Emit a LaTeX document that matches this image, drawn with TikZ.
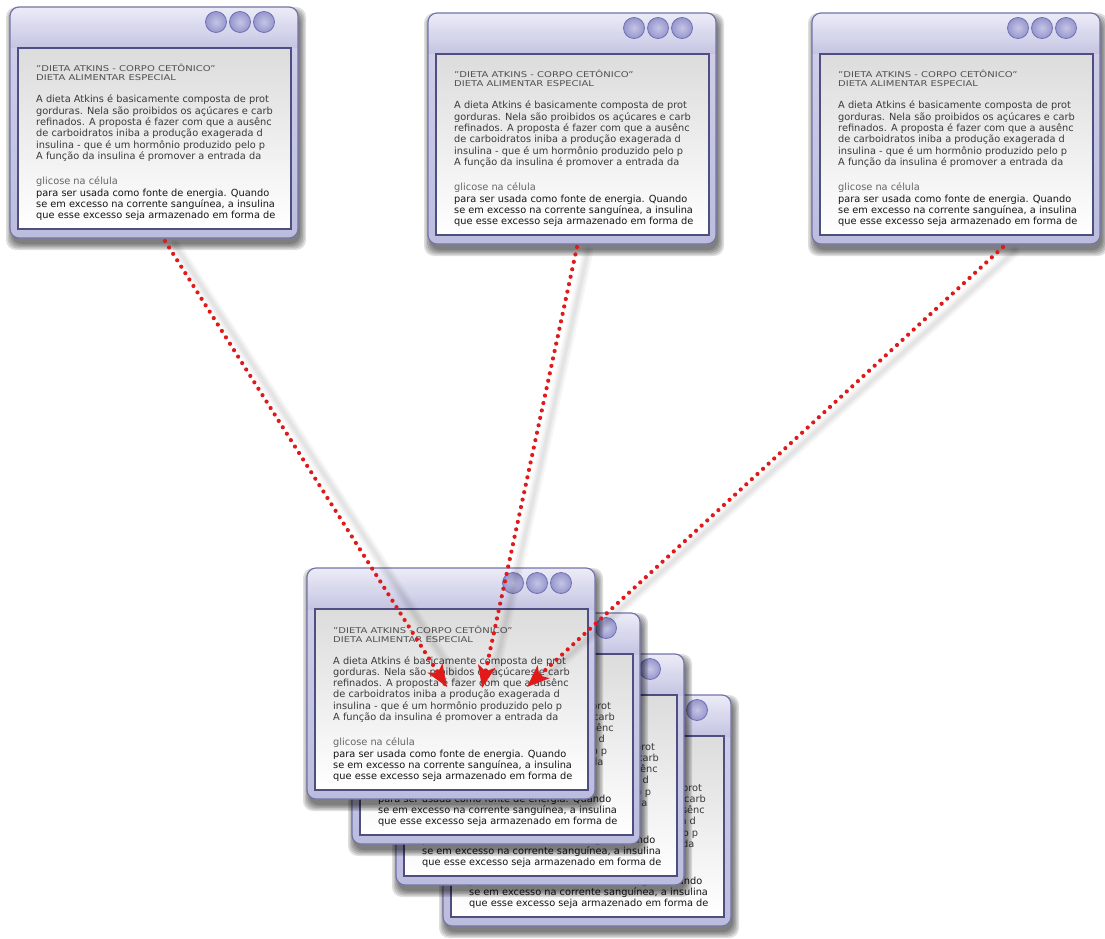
\documentclass[tikz,border=0pt]{standalone}
\usepackage{fontspec}
\setmainfont{DejaVu Sans}
\usepackage{graphicx}
\usetikzlibrary{arrows.meta,calc}
\definecolor{frameA}{HTML}{D2D2EC}
\definecolor{frameB}{HTML}{BCBCDE}
\definecolor{titleTop}{HTML}{ECECF7}
\definecolor{titleBot}{HTML}{C4C4E3}
\definecolor{frameLine}{HTML}{7474A8}
\definecolor{panelLine}{HTML}{4E4E80}
\definecolor{panelTop}{HTML}{DCDCDC}
\definecolor{btnFill}{HTML}{9696CE}
\definecolor{btnLine}{HTML}{7070B2}
\definecolor{bodyCol}{HTML}{3A3A3A}
\definecolor{hdrCol}{HTML}{505050}
\definecolor{lightCol}{HTML}{666666}
\definecolor{darkCol}{HTML}{151515}
\definecolor{arrowRed}{HTML}{E01A1A}
\newif\ifwinfront
\tikzset{
  winframe/.style={anchor=north west, inner sep=0pt, minimum width=288pt, minimum height=231pt,
    rounded corners=9pt, top color=frameA, bottom color=frameB, draw=none},
  winborder/.style={draw=frameLine, line width=1.2pt, rounded corners=9pt},
  winpanel/.style={draw=panelLine, line width=1.3pt, top color=panelTop, bottom color=white},
  winbtn/.style={circle, minimum size=21pt, inner sep=0pt, draw=btnLine, line width=0.8pt,
    inner color=btnFill!55!white, outer color=btnFill},
  bodytext/.style={anchor=base west, inner sep=0pt, font=\fontsize{9.8}{11}\selectfont, text=bodyCol},
  hdrtext/.style={anchor=base west, inner sep=0pt, font=\fontsize{8}{9}\selectfont, text=hdrCol},
  lighttext/.style={bodytext, text=lightCol},
  darktext/.style={bodytext, text=darkCol},
  redarrow/.style={draw=arrowRed, line width=4.2pt, line cap=round, dash pattern=on 0pt off 7.6pt,
    -{Stealth[length=22pt,width=17pt,inset=5pt]}},
  arrowshade/.style={draw=black, line width=#1, opacity=0.035, line cap=round},
}
\newcommand\appwin[3]{%
\begin{scope}[shift={(#2,#3)}]
  \foreach \s in {0,1.5,3,4.5,6} {\fill[black, opacity=0.13, rounded corners=10pt] (2-\s,6-\s) rectangle (290+\s,237+\s);}
  \node[winframe] (#1) at (0,0) {};
  \begin{scope}
    \clip[rounded corners=9pt] (0,0) rectangle (288,231);
    \fill[top color=titleTop, bottom color=titleBot] (0,0) rectangle (288,41);
  \end{scope}
  \draw[winborder] (0,0) rectangle (288,231);
  \path[winpanel] (8,41) rectangle (281,222);
  \node[winbtn] (#1-b1) at (206,15) {};
  \node[winbtn] (#1-b2) at (230,15) {};
  \node[winbtn] (#1-b3) at (254,15) {};
  \ifwinfront
  \node[hdrtext] (#1-t1) at (26,65) {\scalebox{1.25}[1]{"DIETA ATKINS - CORPO CETÔNICO"}};
  \node[hdrtext] (#1-t2) at (26,74) {\scalebox{1.25}[1]{DIETA ALIMENTAR ESPECIAL}};
  \node[lighttext] (#1-t9) at (26,177) {glicose na célula};
  \fi
  \node[bodytext] (#1-t3) at (26,96) {A dieta Atkins é basicamente composta de prot};
  \node[bodytext] (#1-t4) at (26,107.3) {gorduras. Nela são proibidos os açúcares e carb};
  \node[bodytext] (#1-t5) at (26,118.6) {refinados. A proposta é fazer com que a ausênc};
  \node[bodytext] (#1-t6) at (26,129.9) {de carboidratos iniba a produção exagerada d};
  \node[bodytext] (#1-t7) at (26,141.2) {insulina - que é um hormônio produzido pelo p};
  \node[bodytext] (#1-t8) at (26,152.5) {A função da insulina é promover a entrada da};
  \node[darktext] (#1-t10) at (26,189) {para ser usada como fonte de energia. Quando};
  \node[darktext] (#1-t11) at (26,200) {se em excesso na corrente sanguínea, a insulina};
  \node[darktext] (#1-t12) at (26,211) {que esse excesso seja armazenado em forma de};
\end{scope}}
\begin{document}
\begin{tikzpicture}[x=1pt, y=-1pt]
  \useasboundingbox (0,0) rectangle (1105,939);
  \fill[white] (0,0) rectangle (1105,939);
  % top row
  \winfronttrue
  \appwin{wa}{10}{7}
  \appwin{wb}{428}{13}
  \appwin{wc}{812}{13}
  % stack, back to front (hidden lines of the back windows are left out)
  \winfrontfalse
  \appwin{sd}{443}{695}
  \appwin{sc}{396}{654}
  \appwin{sb}{352}{613}
  \winfronttrue
  \appwin{sa}{307}{568}
  % connector ends
  \coordinate (s1) at (165,241);
  \coordinate (s2) at (577,247);
  \coordinate (s3) at (1003,247);
  \coordinate (t1) at (447,687);
  \coordinate (t2) at (482,688);
  \coordinate (t3) at (527,687);
  % soft shadows of the connectors
  \foreach \w in {11pt,7pt,3.5pt} {
    \draw[arrowshade=\w] ($(s1)+(10,4)$) -- ($(t1)+(10,-8)$);
    \draw[arrowshade=\w] ($(s2)+(11,4)$) -- ($(t2)+(11,-8)$);
    \draw[arrowshade=\w] ($(s3)+(12,4)$) -- ($(t3)+(14,-6)$);
  }
  % connectors
  \draw[redarrow] (s1) -- (t1);
  \draw[redarrow] (s2) -- (t2);
  \draw[redarrow] (s3) -- (t3);
\end{tikzpicture}
\end{document}
